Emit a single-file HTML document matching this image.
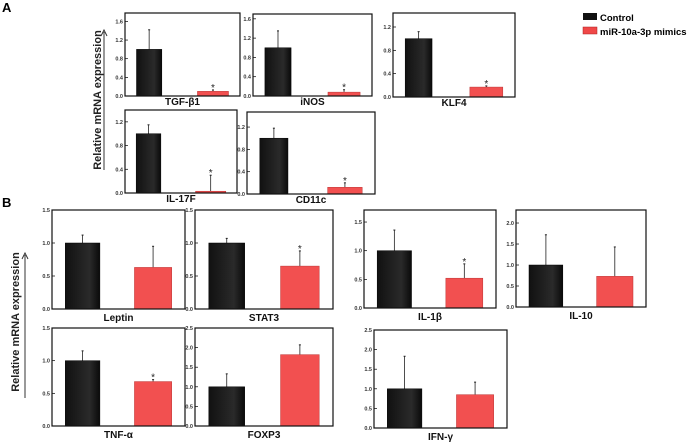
<!DOCTYPE html>
<html><head><meta charset="utf-8"><style>
body{margin:0;background:#fff;}
svg{display:block;font-family:"Liberation Sans",Arial,sans-serif;}
</style></head><body>
<svg id="c" width="688" height="444" viewBox="0 0 688 444">
<defs><linearGradient id="gb" x1="0" x2="1" y1="0" y2="0"><stop offset="0" stop-color="#111"/><stop offset="0.7" stop-color="#2a2a2a"/><stop offset="1" stop-color="#0a0a0a"/></linearGradient></defs>
<text x="2" y="12" font-size="13" font-weight="bold">A</text>
<text x="2" y="207" font-size="13" font-weight="bold">B</text>
<text transform="translate(101,100) rotate(-90)" text-anchor="middle" font-size="11" font-weight="bold" fill="#222">Relative mRNA expression</text>
<line x1="104" y1="170" x2="104" y2="32" stroke="#333"/>
<path d="M101,36 L104,30 L107,36" fill="none" stroke="#333"/>
<text transform="translate(19,322) rotate(-90)" text-anchor="middle" font-size="11" font-weight="bold" fill="#222">Relative mRNA expression</text>
<line x1="25" y1="398" x2="25" y2="255" stroke="#333"/>
<path d="M22,259 L25,253 L28,259" fill="none" stroke="#333"/>
<rect x="583" y="13" width="14" height="7" fill="#111"/>
<text x="600" y="21" font-size="9.5" font-weight="bold">Control</text>
<rect x="583" y="27" width="14" height="7" fill="#f04848" stroke="#a22" stroke-width="0.5"/>
<text x="600" y="35" font-size="9.5" font-weight="bold">miR-10a-3p mimics</text>
</svg>
<script>
const genes=["TGF-β1","iNOS","KLF4","IL-17F","CD11c","Leptin","STAT3","IL-1β","IL-10","TNF-α","FOXP3","IFN-γ"];
const ctrlVals=[1,1,1,1,1,1,1,1,1,1,1,1];
const ctrlErr=[1.42,1.35,1.12,1.15,1.18,1.12,1.07,1.36,1.72,1.15,1.33,1.83];
const mimVals=[0.1,0.08,0.17,0.03,0.12,0.63,0.65,0.52,0.73,0.68,1.82,0.85];
const mimErr=[0.13,0.13,0.19,0.3,0.2,0.95,0.88,0.77,1.43,0.71,2.07,1.17];
const sig=[1,1,1,1,1,0,1,1,0,1,0,0];
const yMax=[1.78,1.7,1.44,1.4,1.47,1.5,1.5,1.71,2.31,1.5,2.5,2.5];
const tickLabels=[["0.0","0.4","0.8","1.2","1.6"],["0.0","0.4","0.8","1.2","1.6"],["0.0","0.4","0.8","1.2"],["0.0","0.4","0.8","1.2"],["0.0","0.4","0.8","1.2"],
["0.0","0.5","1.0","1.5"],["0.0","0.5","1.0","1.5"],["0.0","0.5","1.0","1.5"],["0.0","0.5","1.0","1.5","2.0"],["0.0","0.5","1.0","1.5"],["0.0","0.5","1.0","1.5","2.0","2.5"],["0.0","0.5","1.0","1.5","2.0","2.5"]];
const boxes=[[125,13,115,83],[253,14,119,82],[393,13,122,84],[125,110,112,83],[247,112,128,82],
[52,210,133,99],[195,210,138,99],[364,210,132,98],[516,210,130,97],[52,328,133,98],[195,328,138,98],[374,330,133,98]];
const svg=document.getElementById('c');const NS="http://www.w3.org/2000/svg";
function mk(t,a,p){const e=document.createElementNS(NS,t);for(const k in a)e.setAttribute(k,a[k]);(p||svg).appendChild(e);return e;}
genes.forEach((g,i)=>{
const [x,y,w,h]=boxes[i];const A=i<5;
const grp=mk('g',{});


const sy=v=>y+h-v/yMax[i]*h;
const fc=A?[0.1,0.32]:[0.1,0.36], fm=A?[0.63,0.9]:[0.62,0.9];
tickLabels[i].forEach(t=>{const v=parseFloat(t);const yy=sy(v);
const l=mk('line',{x1:x,x2:x+3,y1:yy,y2:yy,stroke:'#000','stroke-width':0.7},grp);

const tx=mk('text',{x:x-2,y:yy+2,'font-size':5.5,'text-anchor':'end',fill:'#333','font-weight':'bold'},grp);tx.textContent=t;
});
[[ctrlVals[i],ctrlErr[i],fc,'url(#gb)','#000','control'],[mimVals[i],mimErr[i],fm,'#f25050','#b33','mimics']].forEach(([v,e,f,fill,st,nm])=>{
const bx=x+f[0]*w,bw=(f[1]-f[0])*w,cx=bx+bw/2;
const el=mk('line',{x1:cx,x2:cx,y1:sy(v),y2:sy(e),stroke:'#222','stroke-width':0.8},grp);

const cap=mk('line',{x1:cx-1,x2:cx+1,y1:sy(e),y2:sy(e),stroke:'#222','stroke-width':1},grp);

const r=mk('rect',{x:bx,y:sy(v),width:bw,height:Math.max(0.5,sy(0)-sy(v)),fill:fill,stroke:st,'stroke-width':0.5},grp);

if(nm==='mimics'&&sig[i]){const s=mk('text',{x:cx,y:sy(e)+1,'font-size':10,'text-anchor':'middle',fill:'#222'},grp);s.textContent='*';
}
});
const b=mk('rect',{x:x,y:y,width:w,height:h,fill:'none',stroke:'#111','stroke-width':1.2},grp);

const lb=mk('text',{x:x+w/2,y:y+h+(A?9:12),'font-size':10,'font-weight':'bold','text-anchor':'middle',fill:'#111'},grp);lb.textContent=g;

});
</script>
</body></html>
